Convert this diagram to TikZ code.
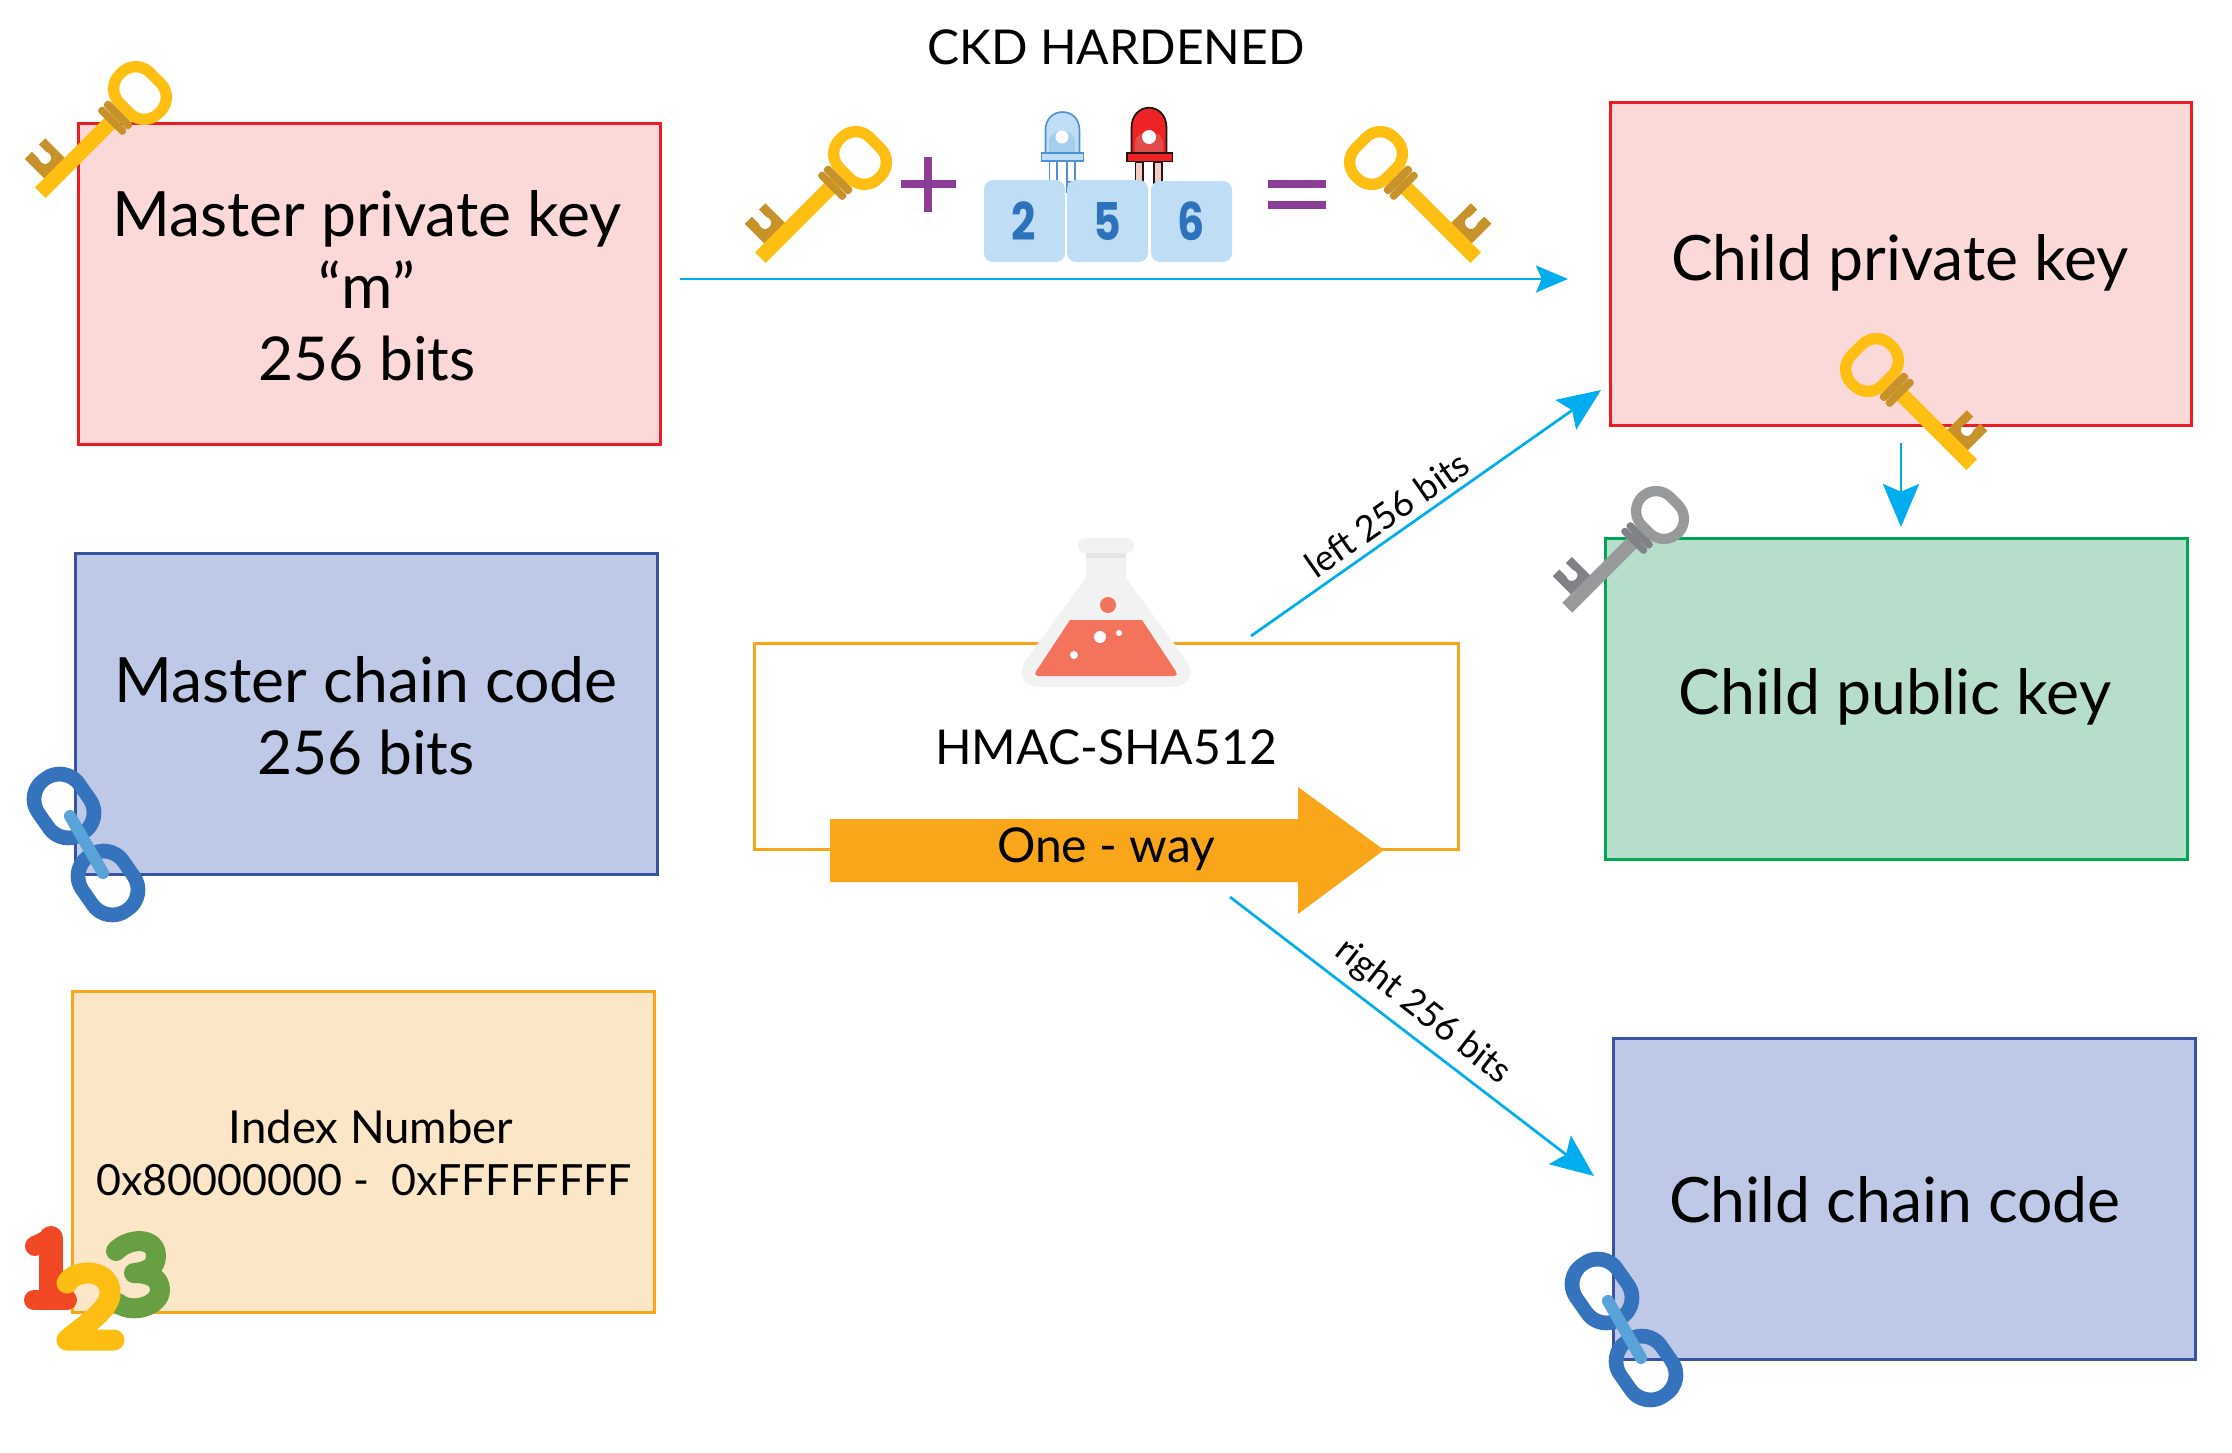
\documentclass[tikz,border=0pt]{standalone}
\usepackage{fontspec}
\setmainfont{Lato}
\newfontfamily\digitfont{Poppins}
\usetikzlibrary{arrows.meta}
\definecolor{keygold}{HTML}{FFBE12}
\definecolor{keybit}{HTML}{C8922B}
\definecolor{keygray}{HTML}{98999B}
\definecolor{keygrayd}{HTML}{808285}
\definecolor{cyanline}{HTML}{00AEEF}
\definecolor{orng}{HTML}{FAA61A}
\definecolor{purp}{HTML}{8C3D96}
\definecolor{tile}{HTML}{BFDEF5}
\definecolor{digit}{HTML}{2F72BC}
\definecolor{chainA}{HTML}{3574BC}
\definecolor{chainB}{HTML}{5AA3D9}
\definecolor{liquid}{HTML}{F3735D}
\definecolor{ledblue}{HTML}{4F90D2}
\definecolor{ledin}{HTML}{A5CDF0}
\definecolor{ledred}{HTML}{EE2325}
\definecolor{ledredin}{HTML}{E14B4B}
\definecolor{legpink}{HTML}{F0CDC3}
\definecolor{ledink}{HTML}{231416}
\definecolor{oneR}{HTML}{F04923}
\definecolor{twoY}{HTML}{FDBE13}
\definecolor{threeG}{HTML}{689F43}
\definecolor{pinkS}{HTML}{ED1C24}
\definecolor{pinkF}{HTML}{FCD9D9}
\definecolor{blueS}{HTML}{3953A4}
\definecolor{blueF}{HTML}{BEC8E7}
\definecolor{sandF}{HTML}{FBE7C8}
\definecolor{greenS}{HTML}{00A651}
\definecolor{greenF}{HTML}{B7DECB}
\newcommand{\bitsline}{\fontsize{60.5}{72}\selectfont 256 bits}
\tikzset{
  pinkbox/.style={draw=pinkS,fill=pinkF,line width=3pt},
  bluebox/.style={draw=blueS,fill=blueF,line width=3pt},
  sandbox/.style={draw=orng,fill=sandF,line width=3pt},
  greenbox/.style={draw=greenS,fill=greenF,line width=3pt},
  big/.style={font=\fontsize{62.5}{72}\selectfont,align=center,inner sep=0pt},
  mid/.style={font=\fontsize{48}{53}\selectfont,align=center,inner sep=0pt},
  small/.style={font=\fontsize{36}{42}\selectfont,inner sep=0pt},
  flow/.style={draw=cyanline,line width=2.7pt,-{Stealth[length=#1,width=0.84*#1,inset=0.18*#1]}},
  flow/.default=43pt,
  digitlabel/.style={text=digit,font=\digitfont\fontsize{52}{52}\bfseries\selectfont,inner sep=0pt},
}
\newcommand{\keyicon}[7]{%
  \begin{scope}[shift={(#1,#2)},xscale=#3,yscale=#4,rotate=#5]
    \fill[#7] (-7,99) -- (-35,99) -- (-35,108) -- (-25,108) .. controls (-12,102) and (-12,124) .. (-25,118)
      -- (-35,118) -- (-35,128) -- (-7,128) -- cycle;
    \fill[#6] (-7.5,30) -- (7.5,30) -- (7.5,141) -- (-7.5,141) -- cycle;
    \fill[#6,even odd rule] [rounded corners=25pt] (-33,-27) rectangle (33,27)
      [rounded corners=15pt] (-22,-16) rectangle (22,16);
    \fill[#7,rounded corners=3pt] (-18,27) rectangle (18,35);
    \fill[#7,rounded corners=3pt] (-18,35.5) rectangle (18,43);
  \end{scope}}
\newcommand{\chainicon}[2]{%
  \begin{scope}[shift={(#1,#2)}]
    \begin{scope}[shift={(64,806)},rotate=35]
      \fill[chainA,even odd rule] [rounded corners=30pt] (-32,-40) rectangle (32,40)
        [rounded corners=18pt] (-18,-26) rectangle (18,26);
    \end{scope}
    \begin{scope}[shift={(108,883)},rotate=35]
      \fill[chainA,even odd rule] [rounded corners=30pt] (-32,-40) rectangle (32,40)
        [rounded corners=18pt] (-18,-26) rectangle (18,26);
    \end{scope}
    \draw[chainB,line width=12pt,line cap=round] (70,816) -- (103,873);
  \end{scope}}
\begin{document}
\begin{tikzpicture}[x=1pt,y=-1pt]
\useasboundingbox (0,0) rectangle (2232,1453);
% boxes
\draw[pinkbox] (78,124) rectangle (660,444);
\node[big] (mpktext) at (367,286) {Master private key\\“m”\\\bitsline};
\draw[bluebox] (75,553) rectangle (657,874);
\node[big] (mcc) at (366,716) {Master chain code\\\bitsline};
\draw[sandbox] (72,991) rectangle (654,1312);
\node[font=\fontsize{45.5}{53}\selectfont,inner sep=0pt] (idxa) at (371,1127) {Index Number};
\node[font=\fontsize{43}{53}\selectfont,inner sep=0pt] (idxb) at (364,1180) {0x80000000 -\ \ 0xFFFFFFFF};
\draw[pinkbox] (1610,103) rectangle (2191,425);
\node[big] (cpk) at (1900,263) {Child private key};
\draw[greenbox] (1605,538) rectangle (2187,859);
\node[big] (cpub) at (1895,697) {Child public key};
\draw[bluebox] (1613,1038) rectangle (2195,1359);
\node[big] (ccc) at (1895,1200) {Child chain code};
% centre box
\draw[draw=orng,line width=3pt] (754,643) rectangle (1458,849);
% flask
\fill[black!5] (1086,578) [rounded corners=36pt] -- (1006,687) -- (1206,687) [sharp corners] -- (1126,578) -- cycle;
\fill[black!5] (1086,550) rectangle (1126,580);
\fill[black!10!white] (1086,553) rectangle (1126,558);
\fill[black!5,rounded corners=7pt] (1078,538) rectangle (1134,553);
\fill[liquid] (1070,620) [rounded corners=5pt] -- (1033,676) -- (1179,676) [sharp corners] -- (1142,620) -- cycle;
\fill[liquid] (1108,605) circle (8);
\fill[white] (1100,637) circle (6);
\fill[white] (1119,633) circle (3);
\fill[white] (1074,655) circle (4);
\node[mid] (hmac) at (1106,747) {HMAC-SHA512};
% big arrow
\fill[orng] (830,819) -- (1298,819) -- (1298,787) -- (1384,850) -- (1298,914) -- (1298,882) -- (830,882) -- cycle;
\node[mid] (oneway) at (1106,849) {One - way};
% connectors
\coordinate (a1) at (680,279); \coordinate (a2) at (1568,279);
\draw[flow=32pt] (a1) -- (a2);
\coordinate (b1) at (1251,636); \coordinate (b2) at (1601,390);
\draw[flow] (b1) -- (b2);
\coordinate (c1) at (1901,443); \coordinate (c2) at (1901,527);
\draw[flow] (c1) -- (c2);
\coordinate (d1) at (1230,897); \coordinate (d2) at (1594,1176);
\draw[flow] (d1) -- (d2);
\node[small,rotate=35] (leftlab) at (1387,514) {left 256 bits};
\node[small,rotate=-38] (rightlab) at (1423,1012) {right 256 bits};
% title row
\node[mid] (ckd) at (1116,47) {CKD HARDENED};
\fill[purp] (924,157) rectangle (932,212);
\fill[purp] (901,180) rectangle (956,188);
\fill[purp] (1268,180) rectangle (1326,188);
\fill[purp] (1268,201) rectangle (1326,209);
% LEDs
\draw[ledblue,line width=1.3pt,fill=white] (1049.5,161) rectangle (1057,182);
\draw[ledblue,line width=1.3pt,fill=white] (1067,161) rectangle (1075,182);
\draw[ledblue,line width=1.3pt] (1067,182) -- (1067,193);
\fill[tile,draw=ledblue,line width=1.6pt] (1045.5,153) -- (1045.5,130) .. controls (1045.5,106) and (1079.5,106) .. (1079.5,130) -- (1079.5,153) -- cycle;
\fill[ledin] (1049,153) -- (1049,142) .. controls (1049,127) and (1075,127) .. (1075,142) -- (1075,153) -- cycle;
\fill[tile,draw=ledblue,line width=1.6pt] (1041.5,153) rectangle (1083.5,161);
\fill[white] (1062,137) circle (6.5);
\fill[legpink,draw=ledink,line width=1.5pt] (1135.5,162) rectangle (1143,183);
\fill[legpink,draw=ledink,line width=1.5pt] (1154,162) rectangle (1162,183);
\fill[ledred,draw=ledink,line width=1.8pt] (1131.5,153) -- (1131.5,128) .. controls (1131.5,101) and (1166.5,101) .. (1166.5,128) -- (1166.5,153) -- cycle;
\fill[ledredin] (1135,153) -- (1135,143) .. controls (1135,128) and (1163,128) .. (1163,143) -- (1163,153) -- cycle;
\fill[ledred,draw=ledink,line width=1.8pt] (1127,153) rectangle (1172.5,161.5);
\fill[white] (1149,137) circle (7);
% tiles
\fill[tile,rounded corners=9pt] (984,180) rectangle (1065,262);
\fill[tile,rounded corners=9pt] (1067,180) rectangle (1148,262);
\fill[tile,rounded corners=9pt] (1151,181) rectangle (1232,262);
\node[digitlabel] (d2t) at (1024,221) {\scalebox{.82}[1]{2}};
\node[digitlabel] (d5t) at (1107,221) {\scalebox{.82}[1]{5}};
\node[digitlabel] (d6t) at (1191,221) {\scalebox{.82}[1]{6}};
% keys
\keyicon{140}{93}{1}{1}{-45}{keygold}{keybit}
\keyicon{860}{158}{1}{1}{-45}{keygold}{keybit}
\keyicon{1376}{158}{-1}{1}{-45}{keygold}{keybit}
\keyicon{1872}{365}{-1}{1}{-45}{keygold}{keybit}
\keyicon{1660}{515}{.93}{.93}{-45}{keygray}{keygrayd}
% chains
\chainicon{0}{0}
\chainicon{1538}{485}
% 123
\begin{scope}[line cap=round,line join=round]
  \draw[oneR,line width=20pt] (35,1246) -- (52,1238);
  \draw[oneR,line width=24pt] (51,1238) -- (51,1298);
  \draw[oneR,line width=20pt] (34,1300) -- (67,1300);
  \draw[threeG,line width=20pt] (116,1251) .. controls (128,1238) and (156,1236) .. (156,1256) .. controls (156,1268) and (146,1272) .. (134,1273) .. controls (150,1273) and (160,1278) .. (160,1290) .. controls (160,1307) and (130,1314) .. (118,1303);
  \begin{scope}
    \clip (0,1200) rectangle (200,1351);
    \draw[twoY,line width=21pt] (67,1283) .. controls (75,1268) and (112,1268) .. (110,1295) .. controls (108,1312) and (80,1328) .. (67,1340) -- (114,1340);
  \end{scope}
\end{scope}
\end{tikzpicture}
\end{document}
